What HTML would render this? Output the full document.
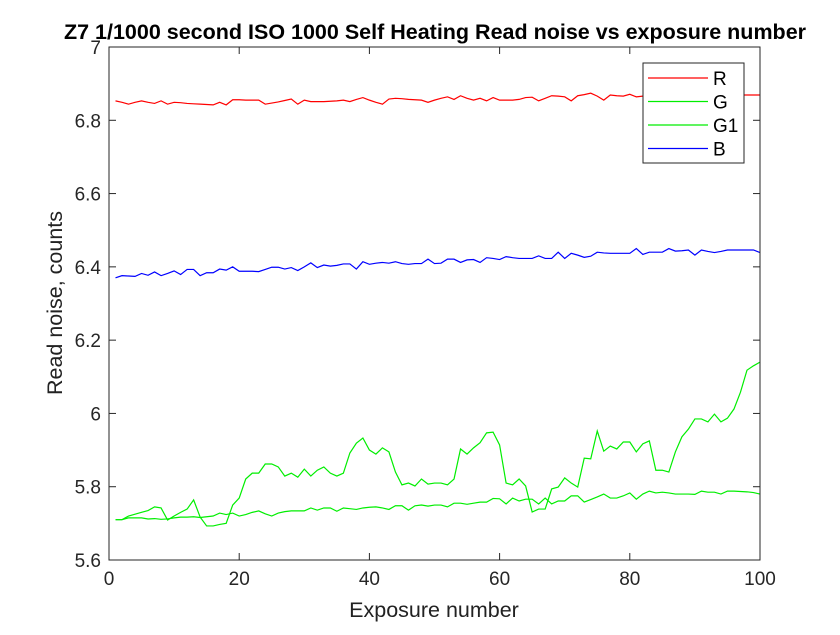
<!DOCTYPE html>
<html><head><meta charset="utf-8"><style>
body{margin:0;background:#fff;}
svg text{font-family:"Liberation Sans",Arial,sans-serif;}
</style></head><body>
<svg id="chart" width="840" height="630" xmlns="http://www.w3.org/2000/svg">
<rect width="840" height="630" fill="#fff"/>
<text x="435" y="39" font-size="21.5" font-weight="bold" text-anchor="middle" fill="#000">Z7 1/1000 second ISO 1000 Self Heating Read noise vs exposure number</text>
<g id="plot"></g>
<text x="434" y="617" font-size="21.5" text-anchor="middle" fill="#222">Exposure number</text>
<text transform="translate(62,303) rotate(-90)" font-size="21.5" text-anchor="middle" fill="#222">Read noise, counts</text>
</svg>
<script>
const xTicks=[0,20,40,60,80,100];
const yTicks=[5.6,5.8,6,6.2,6.4,6.6,6.8,7];
const yTickLabels=["5.6","5.8","6","6.2","6.4","6.6","6.8","7"];
const seriesNames=["R","G","G1","B"];
const R=[6.853,6.849,6.844,6.849,6.853,6.849,6.846,6.853,6.844,6.849,6.848,6.846,6.845,6.844,6.843,6.842,6.849,6.842,6.856,6.856,6.855,6.855,6.855,6.844,6.847,6.85,6.854,6.858,6.844,6.855,6.851,6.851,6.851,6.852,6.853,6.855,6.851,6.857,6.862,6.855,6.849,6.844,6.858,6.86,6.859,6.857,6.856,6.855,6.849,6.855,6.86,6.864,6.857,6.867,6.86,6.855,6.86,6.853,6.862,6.855,6.855,6.855,6.857,6.862,6.863,6.853,6.86,6.867,6.866,6.864,6.853,6.867,6.87,6.874,6.866,6.855,6.869,6.867,6.866,6.871,6.864,6.866,6.867,6.865,6.868,6.866,6.869,6.867,6.868,6.866,6.869,6.868,6.867,6.869,6.868,6.87,6.869,6.869,6.869,6.869];
const G=[5.71,5.71,5.715,5.715,5.715,5.712,5.713,5.711,5.712,5.715,5.717,5.717,5.718,5.716,5.718,5.72,5.728,5.724,5.728,5.72,5.724,5.73,5.734,5.726,5.72,5.728,5.732,5.734,5.734,5.734,5.742,5.736,5.742,5.742,5.733,5.742,5.74,5.738,5.742,5.744,5.745,5.742,5.738,5.748,5.748,5.736,5.748,5.75,5.747,5.75,5.75,5.745,5.755,5.755,5.752,5.755,5.758,5.758,5.768,5.767,5.753,5.769,5.761,5.766,5.766,5.753,5.769,5.753,5.761,5.761,5.775,5.775,5.758,5.765,5.772,5.78,5.769,5.769,5.775,5.783,5.766,5.78,5.788,5.783,5.785,5.783,5.78,5.78,5.78,5.779,5.788,5.785,5.785,5.78,5.788,5.788,5.787,5.786,5.784,5.78];
const G1=[5.71,5.71,5.72,5.725,5.73,5.735,5.745,5.742,5.709,5.72,5.73,5.739,5.764,5.717,5.693,5.693,5.697,5.70,5.75,5.769,5.821,5.837,5.837,5.862,5.862,5.854,5.829,5.837,5.826,5.848,5.829,5.845,5.854,5.837,5.829,5.837,5.892,5.919,5.933,5.90,5.889,5.906,5.895,5.84,5.805,5.81,5.802,5.821,5.807,5.81,5.81,5.805,5.821,5.903,5.889,5.906,5.92,5.947,5.949,5.914,5.81,5.805,5.821,5.802,5.731,5.739,5.739,5.794,5.799,5.824,5.81,5.799,5.878,5.876,5.952,5.897,5.911,5.903,5.922,5.922,5.895,5.917,5.925,5.845,5.845,5.840,5.895,5.936,5.957,5.985,5.985,5.977,5.998,5.977,5.987,6.012,6.058,6.118,6.13,6.14];
const B=[6.370,6.376,6.375,6.374,6.382,6.377,6.386,6.376,6.382,6.389,6.379,6.393,6.393,6.376,6.384,6.384,6.394,6.391,6.400,6.388,6.388,6.388,6.387,6.393,6.399,6.399,6.394,6.398,6.390,6.400,6.411,6.398,6.405,6.402,6.404,6.408,6.408,6.394,6.414,6.407,6.410,6.412,6.410,6.414,6.409,6.407,6.409,6.409,6.421,6.409,6.410,6.421,6.421,6.412,6.419,6.420,6.412,6.425,6.423,6.420,6.428,6.425,6.423,6.423,6.423,6.430,6.423,6.423,6.440,6.423,6.437,6.432,6.426,6.429,6.440,6.438,6.437,6.437,6.437,6.437,6.450,6.434,6.440,6.440,6.440,6.450,6.443,6.444,6.446,6.432,6.446,6.442,6.439,6.442,6.446,6.446,6.446,6.446,6.446,6.439];

const L=109,Rt=760,T=47,Bm=560,NS="http://www.w3.org/2000/svg";
const xS=v=>L+(v-0)/(100-0)*(Rt-L);
const yS=v=>Bm-(v-5.6)/(7-5.6)*(Bm-T);
const plot=document.getElementById('plot');
function mk(tag,attrs,parent){const e=document.createElementNS(NS,tag);for(const k in attrs)e.setAttribute(k,attrs[k]);(parent||plot).appendChild(e);return e;}
mk('rect',{x:L,y:T,width:Rt-L,height:Bm-T,fill:'#fff'});
const colors=["#ff0000","#00ee00","#00ee00","#0000ff"];
const data=[R,G,G1,B];
data.forEach((arr,si)=>{
  const pts=arr.map((v,i)=>xS(i+1).toFixed(2)+','+yS(v).toFixed(2)).join(' ');
  const pl=mk('polyline',{points:pts,fill:'none',stroke:colors[si],'stroke-width':1.2});
  
  
});
const ax=mk('rect',{x:L,y:T,width:Rt-L,height:Bm-T,fill:'none',stroke:'#262626','stroke-width':1});


xTicks.forEach(t=>{
  const x=xS(t);
  mk('line',{x1:x,y1:Bm,x2:x,y2:Bm-7,stroke:'#262626'});
  mk('line',{x1:x,y1:T,x2:x,y2:T+7,stroke:'#262626'});
  const tx=mk('text',{x:x,y:Bm+25,'font-size':19,'text-anchor':'middle',fill:'#262626'});
  tx.textContent=String(t);
  
  
});
yTicks.forEach((t,i)=>{
  const y=yS(t);
  mk('line',{x1:L,y1:y,x2:L+7,y2:y,stroke:'#262626'});
  mk('line',{x1:Rt,y1:y,x2:Rt-7,y2:y,stroke:'#262626'});
  const tx=mk('text',{x:L-8,y:y+7,'font-size':19,'text-anchor':'end',fill:'#262626'});
  tx.textContent=yTickLabels[i];
  
  
});
const lg=mk('g',{});


mk('rect',{x:643,y:63,width:101,height:100,fill:'#fff',stroke:'#262626'},lg);
seriesNames.forEach((n,i)=>{
  const y=78+i*23.5;
  const ln=mk('line',{x1:648,y1:y,x2:708,y2:y,stroke:colors[i],'stroke-width':1.2},lg);
  
  
  const tx=mk('text',{x:713,y:y+7,'font-size':19,fill:'#000'},lg);
  tx.textContent=n;
  
  
});
</script>
</body></html>
